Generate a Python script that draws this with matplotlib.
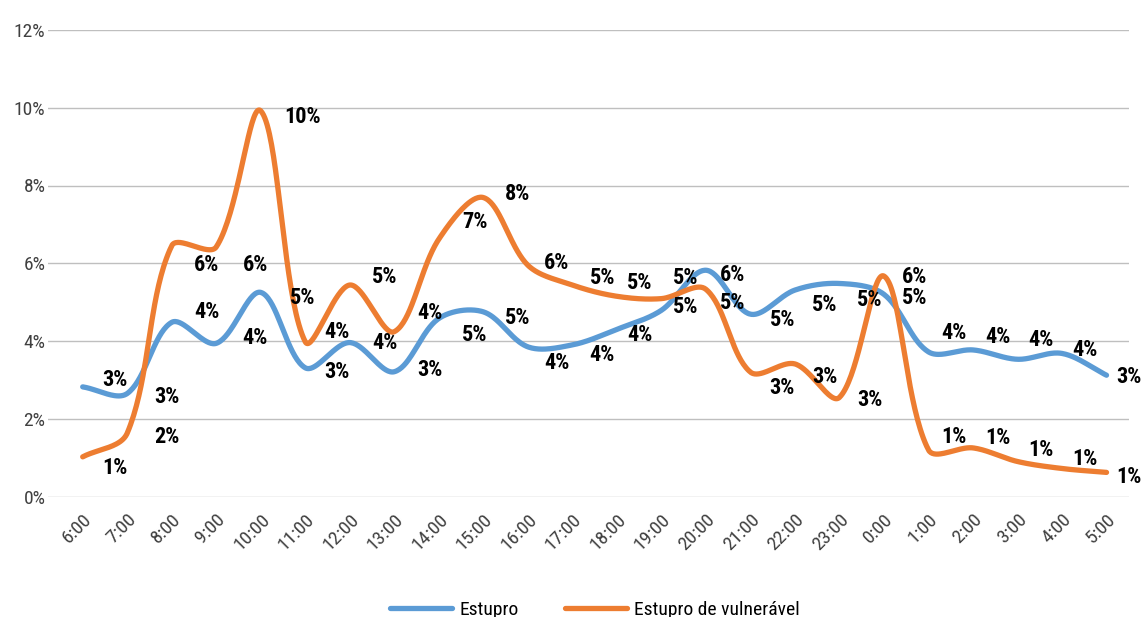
import numpy as np
import matplotlib
matplotlib.use("Agg")
import matplotlib.pyplot as plt
from matplotlib import font_manager

# share of cases by hour of day (%)
hours = ["6:00", "7:00", "8:00", "9:00", "10:00", "11:00", "12:00", "13:00",
         "14:00", "15:00", "16:00", "17:00", "18:00", "19:00", "20:00", "21:00",
         "22:00", "23:00", "0:00", "1:00", "2:00", "3:00", "4:00", "5:00"]
estupro = [2.82, 2.65, 4.48, 3.94, 5.25, 3.31, 3.96, 3.21, 4.58, 4.75, 3.85, 3.90,
           4.30, 4.79, 5.82, 4.69, 5.31, 5.48, 5.20, 3.72, 3.77, 3.53, 3.68, 3.12]
estupro_vulneravel = [1.02, 1.63, 6.45, 6.42, 9.92, 3.98, 5.44, 4.24, 6.62, 7.69, 5.95, 5.44,
                      5.15, 5.09, 5.33, 3.20, 3.41, 2.55, 5.67, 1.20, 1.25, 0.90, 0.72, 0.62]
y_ticks = [0, 2, 4, 6, 8, 10, 12]

# value label nudges in pixels (dx to the right, dy downwards)
label_dx = [32, 40, 35, 39, 42, 32, 35, 36, 36, 34, 29, 30,
            23, 24, 27, 32, 30, 30, 31, 25, 25, 23, 23, 22]
dy_estupro = [-7, 4, -10, -5, 6, 4, 0, -2, 17, 6, 16, 10,
              6, -3, 5, 6, 15, 17, 4, -19, -13, -19, -3, 2]
dy_vulneravel = [11, 4, 19, 18, 6, -10, -8, -19, -17, -4, -2, -7,
                 -13, -21, 14, 16, 13, 3, 1, -13, -10, -12, -10, 5]

BLUE = "#5B9BD5"
ORANGE = "#ED7D31"
GRID = "#BFBFBF"

# prefer a narrow sans, fall back to Arial-metric Liberation Sans
installed = {f.name for f in font_manager.fontManager.ttflist}
narrow = None
for fam in ["Liberation Sans Narrow", "Roboto Condensed", "Open Sans Condensed",
            "DejaVu Sans Condensed"]:
    if fam in installed:
        narrow = fam
        break
if narrow:
    plt.rcParams["font.family"] = narrow
    tick_size, label_size, legend_size = 14, 16, 14
else:
    plt.rcParams["font.family"] = "Liberation Sans"
    tick_size, label_size, legend_size = 12.5, 13.5, 12


def smooth_curve(ax, xs, ys, steps=40):
    """Bezier spline through the points, built in display space so the
    curve bends the same way on screen regardless of axis scaling."""
    pts = ax.transData.transform(np.column_stack([xs, ys]))
    n = len(pts)
    t = np.linspace(0, 1, steps)[:, None]
    out = [pts[:1]]
    for i in range(n - 1):
        p0 = pts[i - 1] if i > 0 else pts[i]
        p1, p2 = pts[i], pts[i + 1]
        p3 = pts[i + 2] if i + 2 < n else pts[i + 1]
        d01 = np.linalg.norm(p1 - p0)
        d12 = np.linalg.norm(p2 - p1)
        d23 = np.linalg.norm(p3 - p2)
        c1 = p1 + (p2 - p0) * d12 / (d01 + d12) / 3
        c2 = p2 - (p3 - p1) * d12 / (d12 + d23) / 3
        seg = ((1 - t) ** 3) * p1 + 3 * ((1 - t) ** 2) * t * c1 \
            + 3 * (1 - t) * t ** 2 * c2 + t ** 3 * p2
        out.append(seg[1:])
    curve = ax.transData.inverted().transform(np.vstack(out))
    return curve[:, 0], curve[:, 1]


fig = plt.figure(figsize=(11.44, 6.17), dpi=100)
ax = fig.add_axes([48.3 / 1144, 120.5 / 617, (1129 - 48.3) / 1144, (496.5 - 30) / 617])
ax.set_xlim(-0.773, 23.505)
ax.set_ylim(0, 12)

x = np.arange(len(hours))
series = [
    (estupro, BLUE, "Estupro", dy_estupro),
    (estupro_vulneravel, ORANGE, "Estupro de vulnerável", dy_vulneravel),
]
for vals, color, name, dys in series:
    sx, sy = smooth_curve(ax, x, vals)
    ax.plot(sx, sy, color=color, lw=3.8, solid_capstyle="round", label=name, zorder=3)
    for i, v in enumerate(vals):
        ax.annotate(f"{v:.0f}%", (i, v), xytext=(label_dx[i], -dys[i]),
                    textcoords="offset pixels", ha="center", va="center",
                    fontsize=label_size, fontweight="bold", color="black", zorder=4)

ax.set_yticks(y_ticks)
ax.set_yticklabels([f"{v}%" for v in y_ticks])
ax.set_xticks(x)
ax.set_xticklabels(hours, rotation=45, ha="right", rotation_mode="anchor")
ax.tick_params(axis="y", length=0, pad=2, labelsize=tick_size, labelcolor="#404040")
ax.tick_params(axis="x", length=0, pad=10, labelsize=tick_size, labelcolor="#404040")
ax.yaxis.grid(True, color=GRID, lw=1.0)
ax.set_axisbelow(True)
for s in ax.spines.values():
    s.set_visible(False)

fig.legend(loc="center", bbox_to_anchor=(0.52, 0.012), ncol=2, frameon=False,
           fontsize=legend_size, handlelength=3.2, handletextpad=0.35, columnspacing=2.4)

fig.savefig("out.png", dpi=100)
